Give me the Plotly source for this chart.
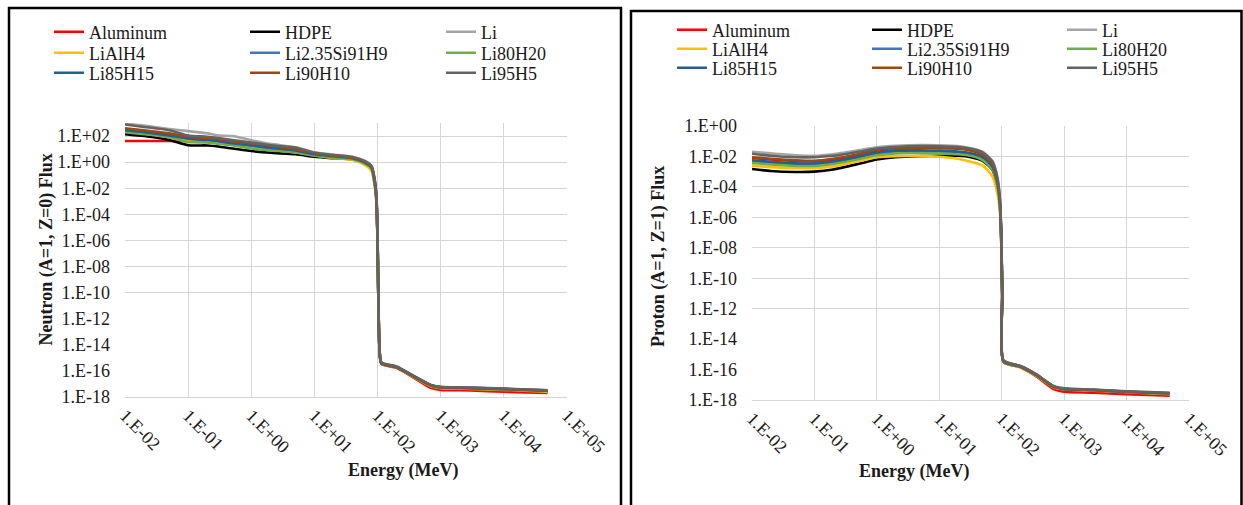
import plotly.graph_objects as go

W, H = 1243, 505

series_names = ["Aluminum", "HDPE", "Li", "LiAlH4", "Li2.35Si91H9", "Li80H20",
                "Li85H15", "Li90H10", "Li95H5"]
series_colors = ["#FF0000", "#000000", "#A5A5A5", "#FFC000", "#4472C4", "#70AD47",
                 "#255E91", "#9E480E", "#636363"]

# ---------------- Neutron panel ----------------
neutron_energy = [1e-2, 2e-2, 5e-2, 1e-1, 2e-1, 3e-1, 5e-1, 1e0, 2e0, 5e0, 1e1, 2e1, 4e1,
                  6e1, 8e1, 9e1, 9.6e1, 1e2, 1.07e2, 1.15e2, 2e2, 4e2, 7e2, 1e3, 3e3, 1e4, 4.9e4]

neutron_aluminum = [4.2e1, 4.2e1, 4.2e1, 4.0e1, 3.5e1, 2.8e1, 2.2e1, 1.6e1, 1.1e1, 7.9e0, 4.5e0,
                    3.2e0, 2.2e0, 1.1e0, 4.0e-1, 3.2e-2, 1.6e-3, 7.9e-7, 7.1e-15, 3.5e-16,
                    1.7e-16, 2.5e-17, 5.0e-18, 3.5e-18, 3.2e-18, 2.5e-18, 2.0e-18]
neutron_hdpe = [1.4e2, 1.0e2, 5.0e1, 2.0e1, 1.9e1, 1.6e1, 1.1e1, 7.1e0, 5.2e0, 4.0e0, 2.6e0,
                2.0e0, 1.6e0, 7.9e-1, 2.8e-1, 2.2e-2, 1.0e-3, 6.3e-7, 6.3e-15, 3.8e-16,
                1.9e-16, 2.8e-17, 7.1e-18, 5.0e-18, 4.4e-18, 3.6e-18, 2.8e-18]
neutron_li = [8.9e2, 6.3e2, 3.5e2, 2.4e2, 1.6e2, 1.1e2, 1.0e2, 4.8e1, 2.5e1, 1.4e1, 5.6e0,
              3.8e0, 2.6e0, 1.4e0, 5.2e-1, 5.0e-2, 2.5e-3, 1.0e-6, 7.9e-15, 4.2e-16,
              2.1e-16, 3.3e-17, 7.9e-18, 5.8e-18, 5.0e-18, 4.2e-18, 3.2e-18]
neutron_lialh4 = [2.2e2, 1.6e2, 8.9e1, 5.0e1, 4.0e1, 3.2e1, 2.2e1, 1.4e1, 8.9e0, 5.6e0, 3.3e0,
                  2.1e0, 1.5e0, 6.9e-1, 2.1e-1, 1.6e-2, 7.9e-4, 5.0e-7, 6.3e-15, 3.8e-16,
                  1.9e-16, 2.8e-17, 6.6e-18, 4.8e-18, 4.2e-18, 3.5e-18, 2.6e-18]
neutron_li235si91h9 = [3.2e2, 2.2e2, 1.3e2, 7.1e1, 5.2e1, 4.0e1, 2.8e1, 1.8e1, 1.1e1, 7.1e0,
                       3.8e0, 2.6e0, 1.8e0, 9.5e-1, 3.5e-1, 2.8e-2, 1.3e-3, 7.9e-7, 7.1e-15,
                       4.0e-16, 2.0e-16, 3.2e-17, 7.6e-18, 5.4e-18, 4.7e-18, 3.9e-18, 3.0e-18]
neutron_li80h20 = [2.0e2, 1.4e2, 7.9e1, 3.5e1, 3.2e1, 2.6e1, 2.0e1, 1.1e1, 7.9e0, 5.6e0, 3.2e0,
                   2.2e0, 1.7e0, 8.9e-1, 3.2e-1, 2.5e-2, 1.3e-3, 6.3e-7, 6.3e-15, 3.8e-16,
                   1.9e-16, 3.0e-17, 7.6e-18, 5.4e-18, 4.7e-18, 3.8e-18, 2.9e-18]
neutron_li85h15 = [2.8e2, 2.0e2, 1.1e2, 6.3e1, 5.0e1, 4.2e1, 2.8e1, 2.0e1, 1.3e1, 7.9e0, 4.0e0,
                   2.8e0, 2.0e0, 1.05e0, 4.0e-1, 3.2e-2, 1.6e-3, 7.9e-7, 7.1e-15, 4.0e-16,
                   2.0e-16, 3.2e-17, 7.9e-18, 5.6e-18, 5.0e-18, 4.2e-18, 3.2e-18]
neutron_li90h10 = [4.0e2, 2.8e2, 1.6e2, 8.9e1, 7.1e1, 5.9e1, 4.0e1, 2.8e1, 1.8e1, 1.0e1, 4.8e0,
                   3.2e0, 2.2e0, 1.2e0, 4.5e-1, 4.0e-2, 2.0e-3, 1.0e-6, 7.9e-15, 4.0e-16,
                   2.0e-16, 3.2e-17, 7.6e-18, 5.5e-18, 4.8e-18, 4.0e-18, 3.0e-18]
neutron_li95h5 = [7.6e2, 5.0e2, 2.8e2, 1.1e2, 8.9e1, 7.1e1, 5.0e1, 3.2e1, 2.0e1, 1.3e1, 5.2e0,
                  3.5e0, 2.5e0, 1.3e0, 5.0e-1, 4.5e-2, 2.5e-3, 1.0e-6, 7.9e-15, 4.5e-16,
                  2.2e-16, 3.5e-17, 8.5e-18, 6.0e-18, 5.2e-18, 4.4e-18, 3.3e-18]

neutron_series = [neutron_aluminum, neutron_hdpe, neutron_li, neutron_lialh4, neutron_li235si91h9,
                  neutron_li80h20, neutron_li85h15, neutron_li90h10, neutron_li95h5]

# ---------------- Proton panel ----------------
proton_energy = [1e-2, 2e-2, 5e-2, 1e-1, 2e-1, 5e-1, 1e0, 2e0, 5e0, 1e1, 2e1, 3.2e1, 5e1, 7.1e1,
                 8.5e1, 9.3e1, 9.8e1, 1.02e2, 1.07e2, 2e2, 3.6e2, 6.8e2, 1e3, 3e3, 1e4, 4.9e4]

proton_aluminum = [7.9e-3, 6.3e-3, 5.0e-3, 4.8e-3, 6.3e-3, 1.1e-2, 2.0e-2, 2.5e-2, 2.2e-2, 1.8e-2,
                   1.4e-2, 1.1e-2, 7.1e-3, 1.8e-3, 1.6e-4, 1.0e-5, 7.9e-8, 7.9e-12, 3.5e-16,
                   1.4e-16, 3.5e-17, 5.2e-18, 3.5e-18, 3.0e-18, 2.4e-18, 1.9e-18]
proton_hdpe = [1.5e-3, 1.1e-3, 9.5e-4, 1.0e-3, 1.4e-3, 3.2e-3, 6.3e-3, 8.9e-3, 1.05e-2, 1.1e-2,
               1.1e-2, 8.9e-3, 5.0e-3, 1.3e-3, 1.1e-4, 7.9e-6, 5.0e-8, 6.3e-12, 3.2e-16,
               1.5e-16, 4.0e-17, 7.1e-18, 5.0e-18, 4.2e-18, 3.3e-18, 2.5e-18]
proton_li = [2.0e-2, 1.6e-2, 1.2e-2, 1.1e-2, 1.4e-2, 2.5e-2, 4.0e-2, 5.0e-2, 5.6e-2, 5.4e-2,
             4.8e-2, 3.5e-2, 2.0e-2, 5.0e-3, 5.0e-4, 2.5e-5, 1.6e-7, 1.0e-11, 4.0e-16,
             1.7e-16, 4.7e-17, 7.9e-18, 5.6e-18, 4.7e-18, 3.6e-18, 2.9e-18]
proton_lialh4 = [2.5e-3, 2.0e-3, 1.7e-3, 1.7e-3, 2.2e-3, 4.8e-3, 8.9e-3, 1.05e-2, 1.05e-2, 9.5e-3,
                 7.1e-3, 4.5e-3, 2.5e-3, 5.0e-4, 4.0e-5, 3.2e-6, 3.2e-8, 5.0e-12, 3.2e-16,
                 1.4e-16, 3.8e-17, 6.9e-18, 4.9e-18, 4.1e-18, 3.2e-18, 2.4e-18]
proton_li235si91h9 = [4.5e-3, 3.5e-3, 2.8e-3, 2.8e-3, 3.8e-3, 7.9e-3, 1.4e-2, 1.8e-2, 1.9e-2,
                      1.8e-2, 1.6e-2, 1.2e-2, 6.3e-3, 1.6e-3, 1.4e-4, 1.0e-5, 6.3e-8, 6.3e-12,
                      3.2e-16, 1.5e-16, 4.2e-17, 7.4e-18, 5.2e-18, 4.4e-18, 3.5e-18, 2.7e-18]
proton_li80h20 = [3.8e-3, 3.0e-3, 2.4e-3, 2.4e-3, 3.2e-3, 6.6e-3, 1.2e-2, 1.6e-2, 1.7e-2, 1.6e-2,
                  1.4e-2, 1.1e-2, 5.6e-3, 1.4e-3, 1.3e-4, 8.9e-6, 6.3e-8, 6.3e-12, 3.2e-16,
                  1.5e-16, 4.2e-17, 7.4e-18, 5.2e-18, 4.4e-18, 3.4e-18, 2.6e-18]
proton_li85h15 = [5.6e-3, 4.5e-3, 3.5e-3, 3.5e-3, 4.8e-3, 9.5e-3, 1.8e-2, 2.4e-2, 2.5e-2, 2.4e-2,
                  2.1e-2, 1.6e-2, 8.9e-3, 2.2e-3, 2.0e-4, 1.3e-5, 7.9e-8, 7.9e-12, 3.5e-16,
                  1.6e-16, 4.4e-17, 7.6e-18, 5.4e-18, 4.5e-18, 3.5e-18, 2.8e-18]
proton_li90h10 = [8.9e-3, 7.1e-3, 5.6e-3, 5.2e-3, 7.1e-3, 1.4e-2, 2.8e-2, 3.5e-2, 3.8e-2, 3.5e-2,
                  3.2e-2, 2.4e-2, 1.3e-2, 3.2e-3, 2.8e-4, 1.6e-5, 1.0e-7, 7.9e-12, 3.5e-16,
                  1.6e-16, 4.4e-17, 7.6e-18, 5.4e-18, 4.5e-18, 3.5e-18, 2.7e-18]
proton_li95h5 = [1.5e-2, 1.1e-2, 8.9e-3, 8.9e-3, 1.1e-2, 2.0e-2, 3.3e-2, 4.2e-2, 4.8e-2, 4.7e-2,
                 4.2e-2, 3.2e-2, 1.8e-2, 4.5e-3, 4.0e-4, 2.0e-5, 1.3e-7, 1.0e-11, 4.0e-16,
                 1.7e-16, 4.8e-17, 8.3e-18, 5.8e-18, 4.8e-18, 3.7e-18, 3.0e-18]

proton_series = [proton_aluminum, proton_hdpe, proton_li, proton_lialh4, proton_li235si91h9,
                 proton_li80h20, proton_li85h15, proton_li90h10, proton_li95h5]

x_tick_vals = [1e-2, 1e-1, 1e0, 1e1, 1e2, 1e3, 1e4, 1e5]
x_tick_text = ["1.E-02", "1.E-01", "1.E+00", "1.E+01", "1.E+02", "1.E+03", "1.E+04", "1.E+05"]
neutron_y_tick_vals = [1e-18, 1e-16, 1e-14, 1e-12, 1e-10, 1e-8, 1e-6, 1e-4, 1e-2, 1e0, 1e2]
neutron_y_tick_text = ["1.E-18", "1.E-16", "1.E-14", "1.E-12", "1.E-10", "1.E-08", "1.E-06",
                       "1.E-04", "1.E-02", "1.E+00", "1.E+02"]
neutron_grid_vals = [1e-10, 1e-8, 1e-6, 1e-4, 1e-2, 1e0, 1e2]
proton_y_tick_vals = [1e-18, 1e-16, 1e-14, 1e-12, 1e-10, 1e-8, 1e-6, 1e-4, 1e-2, 1e0]
proton_y_tick_text = ["1.E-18", "1.E-16", "1.E-14", "1.E-12", "1.E-10", "1.E-08", "1.E-06",
                      "1.E-04", "1.E-02", "1.E+00"]
proton_grid_vals = [1e-12, 1e-10, 1e-8, 1e-6, 1e-4, 1e-2, 1e0]

FONT = "Liberation Serif"
TXT = "#1a1a1a"
GRID = "#d6d6d6"

def px_x(p):
    return p / W

def px_y(p):
    return 1 - p / H

fig = go.Figure()

legend_ids_left = ["legend", "legend", "legend", "legend2", "legend2", "legend2",
                   "legend3", "legend3", "legend3"]
legend_ids_right = ["legend4", "legend4", "legend4", "legend5", "legend5", "legend5",
                    "legend6", "legend6", "legend6"]

# The first series of each panel sits on the grid-only axis (y / y2); the others on the
# overlaying labelled axis (y3 / y4) with identical range.
for i, (name, color, vals, lg) in enumerate(zip(series_names, series_colors, neutron_series,
                                                legend_ids_left)):
    fig.add_trace(go.Scatter(x=neutron_energy, y=vals, name=name, mode="lines",
                             line=dict(color=color, width=2.6, shape="spline", smoothing=0.6),
                             xaxis="x", yaxis="y" if i == 0 else "y3", legend=lg))
for i, (name, color, vals, lg) in enumerate(zip(series_names, series_colors, proton_series,
                                                legend_ids_right)):
    fig.add_trace(go.Scatter(x=proton_energy, y=vals, name=name, mode="lines",
                             line=dict(color=color, width=2.6, shape="spline", smoothing=0.6),
                             xaxis="x2", yaxis="y2" if i == 0 else "y4", legend=lg))

tickfont = dict(family=FONT, size=18, color=TXT)

xcommon = dict(type="log", range=[-2, 5], tickvals=x_tick_vals, ticktext=x_tick_text,
               tickangle=45, showgrid=True, gridcolor=GRID, gridwidth=1, showline=True,
               linecolor=GRID, linewidth=1, zeroline=False, ticks="", tickfont=tickfont,
               ticklabelstandoff=0, automargin=False)

L_domain_x = [px_x(125), px_x(567)]
L_domain_y = [px_y(397), px_y(123)]
R_domain_x = [px_x(752), px_x(1189)]
R_domain_y = [px_y(400), px_y(126)]

grid_axis = dict(type="log", showgrid=True, gridcolor=GRID, gridwidth=1,
                 showticklabels=False, zeroline=False, showline=False, ticks="",
                 automargin=False)
label_axis = dict(type="log", showgrid=False, zeroline=False, showline=False, ticks="",
                  tickfont=tickfont, ticklabelstandoff=14, automargin=False)

fig.update_layout(
    width=W, height=H, autosize=False,
    margin=dict(l=0, r=0, t=0, b=0, pad=0, autoexpand=False),
    paper_bgcolor="white", plot_bgcolor="rgba(0,0,0,0)",
    font=dict(family=FONT, size=18, color=TXT),
    xaxis=dict(domain=L_domain_x, anchor="y", **xcommon),
    xaxis2=dict(domain=R_domain_x, anchor="y2", **xcommon),
    yaxis=dict(domain=L_domain_y, anchor="x", range=[-18, 3], tickvals=neutron_grid_vals,
               **grid_axis),
    yaxis3=dict(domain=L_domain_y, anchor="x", overlaying="y", range=[-18, 3],
                tickvals=neutron_y_tick_vals, ticktext=neutron_y_tick_text, side="left",
                **label_axis),
    yaxis2=dict(domain=R_domain_y, anchor="x2", range=[-18, 0], tickvals=proton_grid_vals,
                **grid_axis),
    yaxis4=dict(domain=R_domain_y, anchor="x2", overlaying="y2", range=[-18, 0],
                tickvals=proton_y_tick_vals, ticktext=proton_y_tick_text, side="left",
                **label_axis),
    showlegend=True,
)

legend_font = dict(family=FONT, size=18, color=TXT)
left_rows_y = [32, 53, 73]
right_rows_y = [30, 49, 68]
for i, lg in enumerate(["legend", "legend2", "legend3"]):
    fig.update_layout({lg: dict(orientation="h", x=px_x(49), xanchor="left",
                                y=px_y(left_rows_y[i]), yanchor="middle",
                                entrywidth=151, entrywidthmode="pixels",
                                font=legend_font, bgcolor="rgba(0,0,0,0)",
                                borderwidth=0, itemwidth=30, traceorder="normal")})
for i, lg in enumerate(["legend4", "legend5", "legend6"]):
    fig.update_layout({lg: dict(orientation="h", x=px_x(672), xanchor="left",
                                y=px_y(right_rows_y[i]), yanchor="middle",
                                entrywidth=150, entrywidthmode="pixels",
                                font=legend_font, bgcolor="rgba(0,0,0,0)",
                                borderwidth=0, itemwidth=30, traceorder="normal")})

# Axis titles
title_font = dict(family=FONT, size=18, color=TXT)
fig.add_annotation(text="<b>Energy (MeV)</b>", x=px_x(346), y=px_y(483), xref="paper",
                   yref="paper", showarrow=False, font=title_font)
fig.add_annotation(text="<b>Energy (MeV)</b>", x=px_x(971), y=px_y(484), xref="paper",
                   yref="paper", showarrow=False, font=title_font)
fig.add_annotation(text="<b>Neutron (A=1, Z=0) Flux</b>", x=px_x(33), y=px_y(250),
                   xref="paper", yref="paper", showarrow=False, textangle=-90, font=title_font)
fig.add_annotation(text="<b>Proton (A=1, Z=1) Flux</b>", x=px_x(658), y=px_y(257),
                   xref="paper", yref="paper", showarrow=False, textangle=-90, font=title_font)

# Panel borders
fig.add_shape(type="rect", xref="paper", yref="paper", x0=px_x(9), x1=px_x(621),
              y0=-0.1, y1=px_y(8), line=dict(color="#000000", width=2.5))
fig.add_shape(type="rect", xref="paper", yref="paper", x0=px_x(631), x1=px_x(1241.5),
              y0=-0.1, y1=px_y(11), line=dict(color="#000000", width=2.5))

fig.write_html("out.html")
